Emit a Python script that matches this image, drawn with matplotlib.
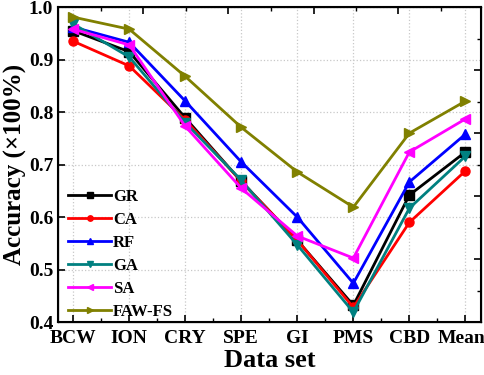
import matplotlib
matplotlib.use("Agg")
import matplotlib.pyplot as plt
import matplotlib.transforms as mtransforms
from matplotlib.ticker import FixedLocator, MultipleLocator

plt.rcParams["font.family"] = ["Liberation Serif", "DejaVu Serif"]
plt.rcParams["font.weight"] = "bold"

datasets = ["BCW", "ION", "CRY", "SPE", "GI", "PMS", "CBD", "Mean"]

gr = [0.955, 0.915, 0.789, 0.668, 0.556, 0.432, 0.642, 0.724]
ca = [0.935, 0.888, 0.785, 0.668, 0.556, 0.428, 0.590, 0.688]
rf = [0.962, 0.933, 0.821, 0.705, 0.600, 0.474, 0.667, 0.758]
ga = [0.968, 0.905, 0.780, 0.670, 0.547, 0.419, 0.617, 0.716]
sa = [0.958, 0.928, 0.773, 0.655, 0.564, 0.522, 0.724, 0.787]
faw = [0.981, 0.958, 0.868, 0.771, 0.686, 0.619, 0.760, 0.821]

series = [
    ("GR", gr, "black", "s"),
    ("CA", ca, "red", "o"),
    ("RF", rf, "blue", "^"),
    ("GA", ga, "#008080", "v"),
    ("SA", sa, "magenta", "<"),
    ("FAW-FS", faw, "#808000", ">"),
]

x = list(range(1, len(datasets) + 1))

fig = plt.figure(figsize=(4.84, 3.75), dpi=100)
ax = fig.add_axes([0.12, 0.141, 0.874, 0.84])

for name, vals, col, mk in series:
    ax.plot(x, vals, color=col, marker=mk, markersize=6.5, linewidth=2.0, label=name)

ax.set_xlim(0.73, 8.28)
ax.set_ylim(0.4, 1.0)
ax.set_xticks(x)
ax.set_xticklabels(datasets)
ax.xaxis.set_minor_locator(MultipleLocator(0.5))
ax.yaxis.set_major_locator(MultipleLocator(0.1))
ax.tick_params(axis="both", which="major", direction="in", length=5, width=1.2, labelsize=14)
ax.tick_params(axis="both", which="minor", direction="in", length=3, width=1.0)
ax.tick_params(axis="x", pad=6)
ax.grid(True, which="major", linestyle=":", color="#c8c8c8", linewidth=0.9)
for s in ax.spines.values():
    s.set_linewidth(1.5)

# nudge the last label so it stays inside the figure
last = ax.get_xticklabels()[-1]
last.set_transform(last.get_transform() + mtransforms.ScaledTranslation(-4 / 100, 0, fig.dpi_scale_trans))

ax.set_xlabel("Data set", fontsize=19, fontweight="bold", labelpad=1)
ax.set_ylabel("Accuracy (×100%)", fontsize=18, fontweight="bold", labelpad=1)

# extra ticks on top and right borders, as in the original figure
top = ax.twiny()
top.set_xlim(ax.get_xlim())
top.xaxis.set_major_locator(FixedLocator([2.25, 3.77, 5.29, 6.80]))
top.xaxis.set_minor_locator(FixedLocator([1.5, 3.02, 4.53, 6.05, 7.56]))
top.tick_params(axis="x", which="major", direction="in", length=5, width=1.2, labeltop=False)
top.tick_params(axis="x", which="minor", direction="in", length=3, width=1.0)
right = ax.twinx()
right.set_ylim(ax.get_ylim())
right.yaxis.set_major_locator(FixedLocator([0.52, 0.64, 0.76, 0.88]))
right.yaxis.set_minor_locator(FixedLocator([0.46, 0.58, 0.70, 0.82, 0.94]))
right.tick_params(axis="y", which="major", direction="in", length=5, width=1.2, labelright=False)
right.tick_params(axis="y", which="minor", direction="in", length=3, width=1.0)

ax.legend(loc="lower left", bbox_to_anchor=(0.0, -0.025), frameon=False, handlelength=2.6,
          handletextpad=0.1, labelspacing=0.42, markerscale=0.6,
          borderaxespad=0.2, prop={"weight": "bold", "size": 12})

fig.savefig("out.png", dpi=100)
